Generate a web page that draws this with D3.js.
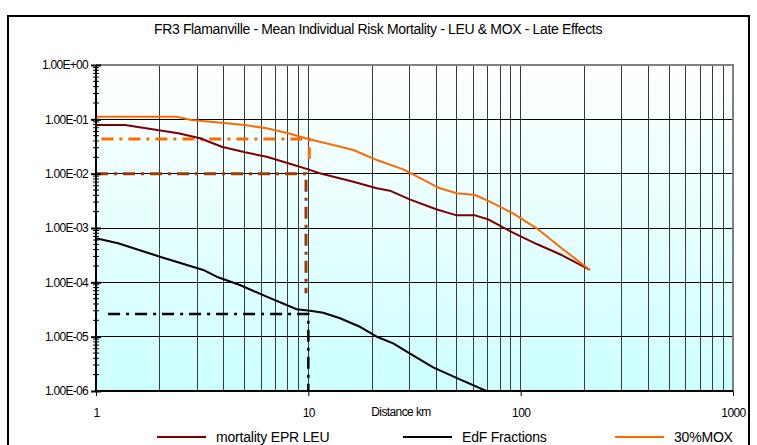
<!DOCTYPE html>
<html>
<head>
<meta charset="utf-8">
<script src="https://cdn.jsdelivr.net/npm/d3@7"></script>
<style>
  body { margin: 0; background: #fff; }
  svg text { font-family: 'Liberation Sans', Arial, sans-serif; fill: #000; }
</style>
</head>
<body>
<div id="chart"></div>
<script>
// values (distance km, risk)
const leuDist = [1, 1.37, 2.44, 3.09, 3.91, 5.03, 6.36, 8.04, 10, 11.3, 16.3, 21, 24.2, 30, 40, 50, 61, 70, 92, 119, 156, 212]
const leuRisk = [0.0787, 0.0787, 0.0553, 0.0448, 0.0313, 0.0247, 0.0205, 0.0155, 0.012, 0.0102, 0.00711, 0.00538, 0.00486, 0.00337, 0.00221, 0.00171, 0.00171, 0.00145, 0.00082, 0.000507, 0.000318, 0.000169]

const edfDist = [1, 1.27, 2, 3.2, 3.7, 4.76, 6.36, 8.81, 10.2, 11.75, 14.1, 17.5, 21, 25.1, 30, 38.7, 51.7, 69]
const edfRisk = [0.000646, 0.000523, 0.000296, 0.000169, 0.000127, 8.93e-5, 5.44e-5, 3.19e-5, 3.0e-5, 2.76e-5, 2.18e-5, 1.52e-5, 9.98e-6, 7.54e-6, 4.94e-6, 2.73e-6, 1.64e-6, 1.0e-6]

const moxDist = [1, 2.4, 2.82, 5.03, 6.36, 8.04, 10, 13.1, 16.3, 21, 28, 30, 41.6, 50, 61, 71.6, 92, 119, 156, 212]
const moxRisk = [0.112, 0.112, 0.0972, 0.0787, 0.0684, 0.0553, 0.0434, 0.0337, 0.0273, 0.0178, 0.012, 0.0104, 0.00538, 0.00435, 0.00405, 0.00305, 0.00186, 0.000987, 0.000423, 0.000169]

// dash-dot reading guides: [distance, risk] corners
const moxGuide = [[1.06, 0.0434], [10.1, 0.0434], [10.1, 0.0186]]
const leuGuide = [[1.0, 0.01], [9.75, 0.01], [9.75, 6.3e-5]]
const edfGuide = [[1.14, 2.61e-5], [10, 2.61e-5], [10, 1e-6]]

const yTicks = [1, 1e-1, 1e-2, 1e-3, 1e-4, 1e-5, 1e-6]
const xTicks = [1, 10, 100, 1000]

const series = [
  { name: 'mortality EPR LEU', dist: leuDist, risk: leuRisk, color: '#800000' },
  { name: 'EdF Fractions', dist: edfDist, risk: edfRisk, color: '#000000' },
  { name: '30%MOX', dist: moxDist, risk: moxRisk, color: '#ff6a00' }
]

const W = 757
const H = 445
const plot = { left: 96, right: 733, top: 65, bottom: 391 }

const svg = d3
  .select('#chart')
  .append('svg')
  .attr('width', W)
  .attr('height', H)

const x = d3.scaleLog().domain([1, 1000]).range([plot.left, plot.right])
const y = d3.scaleLog().domain([1e-6, 1]).range([plot.bottom, plot.top])

// outer frame
svg
  .append('rect')
  .attr('x', 8)
  .attr('y', 16)
  .attr('width', 741)
  .attr('height', 460)
  .attr('fill', '#fff')
  .attr('stroke', '#000')
  .attr('stroke-width', 2)

svg
  .append('text')
  .attr('x', 378)
  .attr('y', 34)
  .attr('text-anchor', 'middle')
  .style('font-size', '14px')
  .style('letter-spacing', '-0.35px')
  .text('FR3  Flamanville - Mean Individual Risk Mortality - LEU & MOX - Late Effects')

// plot background gradient
const grad = svg
  .append('defs')
  .append('linearGradient')
  .attr('id', 'bg')
  .attr('x1', 0)
  .attr('y1', 0)
  .attr('x2', 0)
  .attr('y2', 1)
grad.append('stop').attr('offset', '0%').attr('stop-color', '#ffffff')
grad.append('stop').attr('offset', '100%').attr('stop-color', '#ccffff')

svg
  .append('rect')
  .attr('x', plot.left)
  .attr('y', plot.top)
  .attr('width', plot.right - plot.left)
  .attr('height', plot.bottom - plot.top)
  .attr('fill', 'url(#bg)')

// vertical grid at every minor distance
const xGrid = []
;[1, 10, 100].forEach(d => {
  for (let k = 2; k <= 10; k++) xGrid.push(k * d)
})
svg
  .append('g')
  .selectAll('line')
  .data(xGrid.filter(v => v < 1000))
  .enter()
  .append('line')
  .attr('x1', d => x(d))
  .attr('x2', d => x(d))
  .attr('y1', plot.top)
  .attr('y2', plot.bottom)
  .attr('stroke', '#3a3a3a')
  .attr('stroke-width', 1)
  .attr('shape-rendering', 'crispEdges')

// horizontal grid at decades
svg
  .append('g')
  .selectAll('line')
  .data(yTicks.filter(v => v < 1 && v > 1e-6))
  .enter()
  .append('line')
  .attr('x1', plot.left)
  .attr('x2', plot.right)
  .attr('y1', d => y(d))
  .attr('y2', d => y(d))
  .attr('stroke', '#000')
  .attr('stroke-width', 1)
  .attr('shape-rendering', 'crispEdges')

// top and right border of the plot area
svg
  .append('path')
  .attr('d', `M${plot.left},${plot.top}H${plot.right}V${plot.bottom}`)
  .attr('fill', 'none')
  .attr('stroke', '#808080')
  .attr('stroke-width', 2)

svg
  .append('clipPath')
  .attr('id', 'clip')
  .append('rect')
  .attr('x', plot.left)
  .attr('y', plot.top)
  .attr('width', plot.right - plot.left)
  .attr('height', plot.bottom - plot.top + 1)

const line = d3
  .line()
  .x(d => x(d[0]))
  .y(d => y(d[1]))

const lines = svg.append('g').attr('clip-path', 'url(#clip)')

// guides
const guides = [
  { pts: moxGuide, color: '#ff6a00', w: 3 },
  { pts: leuGuide, color: '#a33a00', w: 3 },
  { pts: edfGuide, color: '#000000', w: 2.5 }
]
lines
  .selectAll('.guide')
  .data(guides)
  .enter()
  .append('path')
  .attr('class', 'guide')
  .attr('d', d => line(d.pts))
  .attr('fill', 'none')
  .attr('stroke', d => d.color)
  .attr('stroke-width', d => d.w)
  .attr('stroke-dasharray', '12,6,3,6')

lines
  .selectAll('.series')
  .data(series)
  .enter()
  .append('path')
  .attr('class', 'series')
  .attr('d', d => line(d.dist.map((v, i) => [v, d.risk[i]])))
  .attr('fill', 'none')
  .attr('stroke', d => d.color)
  .attr('stroke-width', 2)
  .attr('stroke-linejoin', 'round')

// y axis
const expFmt = d => {
  const e = Math.round(Math.log10(d))
  return '1.00E' + (e < 0 ? '-' : '+') + String(Math.abs(e)).padStart(2, '0')
}
const yAxis = svg
  .append('g')
  .attr('transform', `translate(${plot.left},0)`)
  .call(
    d3
      .axisLeft(y)
      .tickValues(yTicks)
      .tickFormat(expFmt)
      .tickSize(5)
      .tickPadding(3)
  )
yAxis.select('.domain').attr('stroke', '#000').attr('stroke-width', 2).attr('d', `M0,${plot.top}V${plot.bottom}`)
yAxis.selectAll('.tick line').attr('x2', -5).attr('x1', 5).attr('stroke-width', 2)
yAxis
  .selectAll('.tick text')
  .style('font-size', '12px')
  .style('letter-spacing', '-0.7px')
  .attr('x', -8)

const yMinor = []
yTicks.slice(1).forEach(d => {
  for (let k = 2; k <= 9; k++) yMinor.push(k * d)
})
svg
  .append('g')
  .selectAll('line')
  .data(yMinor)
  .enter()
  .append('line')
  .attr('x1', plot.left - 3)
  .attr('x2', plot.left + 3)
  .attr('y1', d => y(d))
  .attr('y2', d => y(d))
  .attr('stroke', '#000')
  .attr('stroke-width', 1)

// x axis
const xAxis = svg
  .append('g')
  .attr('transform', `translate(0,${plot.bottom})`)
  .call(d3.axisBottom(x).tickValues(xTicks).tickFormat(d3.format('d')).tickSize(5).tickPadding(12))
xAxis.select('.domain').attr('stroke', '#000').attr('stroke-width', 2).attr('d', `M${plot.left},0H${plot.right}`)
xAxis.selectAll('.tick line').attr('stroke-width', 1)
xAxis.selectAll('.tick text').style('font-size', '12px').style('letter-spacing', '-0.6px')

svg
  .append('text')
  .attr('x', 401)
  .attr('y', 416)
  .attr('text-anchor', 'middle')
  .style('font-size', '12px')
  .style('letter-spacing', '-0.6px')
  .text('Distance km')

// legend
const legendX = [157, 403, 615]
const legend = svg
  .selectAll('.legend')
  .data(series)
  .enter()
  .append('g')
  .attr('class', 'legend')
  .attr('transform', (d, i) => `translate(${legendX[i]},437)`)

legend
  .append('line')
  .attr('x1', 0)
  .attr('x2', 49)
  .attr('stroke', d => d.color)
  .attr('stroke-width', 2)

legend
  .append('text')
  .attr('x', 59)
  .attr('dy', '0.35em')
  .style('font-size', '14px')
  .style('letter-spacing', '-0.2px')
  .text(d => d.name)
</script>
</body>
</html>
